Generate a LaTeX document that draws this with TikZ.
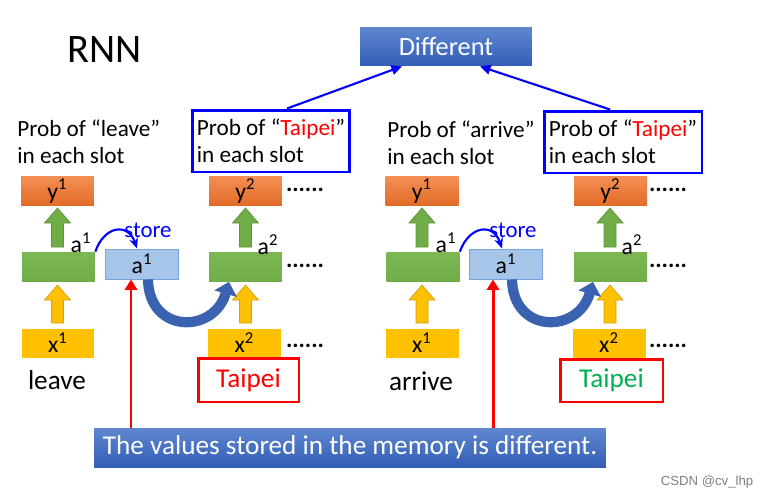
\documentclass[tikz,border=0pt]{standalone}
\usepackage{fontspec}
\setmainfont{Carlito}
\newfontfamily\wmfont{Liberation Sans}
\usetikzlibrary{arrows.meta, positioning, calc, shapes}
\definecolor{pptblue}{RGB}{68,114,196}
\definecolor{pptbluetop}{RGB}{94,135,207}
\definecolor{pptbluebot}{RGB}{50,94,182}
\definecolor{leafgreen}{RGB}{112,173,71}
\definecolor{leafgreentop}{RGB}{124,183,84}
\definecolor{carrot}{RGB}{237,125,49}
\definecolor{carrottop}{RGB}{243,143,84}
\definecolor{carrotbot}{RGB}{226,107,38}
\definecolor{gold}{RGB}{255,192,0}
\definecolor{goldedge}{RGB}{214,160,20}
\definecolor{memfill}{RGB}{166,197,232}
\definecolor{memedge}{RGB}{120,165,220}
\definecolor{curveblue}{RGB}{58,98,176}
\definecolor{pureblue}{RGB}{0,0,255}
\definecolor{purered}{RGB}{255,0,0}
\definecolor{taigreen}{RGB}{0,176,80}

\begin{document}
\begin{tikzpicture}[x=0.02cm, y=-0.02cm,
  cell/.style={minimum width=1.46cm, minimum height=0.58cm, inner sep=0pt, font=\fontsize{13.5}{15}\selectfont},
  outbox/.style={cell, top color=carrottop, bottom color=carrotbot},
  hidbox/.style={cell, top color=leafgreentop, bottom color=leafgreen},
  inbox/.style={cell, fill=gold},
  membox/.style={cell, fill=memfill, draw=memedge, line width=0.5pt, minimum height=0.6cm},
  bluebanner/.style={top color=pptbluetop, bottom color=pptbluebot, text=white, inner sep=0pt},
  probtext/.style={align=left, anchor=base west, inner sep=0pt, font=\fontsize{13.2}{15.3}\selectfont},
  slotbox/.style={draw=pureblue, line width=1.7pt, minimum width=3.16cm, minimum height=1.24cm,
    align=left, inner sep=0pt, font=\fontsize{13.2}{15.3}\selectfont},
  wordbox/.style={draw=purered, line width=1.7pt, inner sep=0pt, font=\fontsize{15.5}{18}\selectfont},
  dotstext/.style={font=\fontsize{13.5}{15}\selectfont\bfseries, inner sep=0pt},
  storetext/.style={text=pureblue, font=\fontsize{13}{14}\selectfont, inner sep=0pt},
  alabel/.style={font=\fontsize{13.5}{15}\selectfont, inner sep=0pt},
  storearr/.style={pureblue, line width=1.2pt, -{Stealth[length=6pt, width=5pt]}},
  carryarr/.style={curveblue, line width=5.8pt, -{Triangle[length=7pt, width=13pt]}},
  pointarr/.style={purered, line width=1.7pt, -{Triangle[length=6pt, width=7pt]}},
  diffarr/.style={pureblue, line width=1.2pt, -{Triangle[length=6pt, width=5.5pt]}},
  garrow/.style={fill=leafgreen, draw=leafgreen!85!black, line width=0.4pt},
  yarrow/.style={fill=gold, draw=goldedge, line width=0.4pt}]
\useasboundingbox (0,0) rectangle (763,497);

\node[font=\fontsize{23}{26}\selectfont, inner sep=0pt] (title) at (104.5,50) {RNN};
\node[bluebanner, minimum width=3.44cm, minimum height=0.78cm, font=\fontsize{15}{18}\selectfont] (diff) at (446,46.5) {Different};

% block arrows x -> a -> y
\foreach \x in {57.5,245.5,422,610} {
  \filldraw[garrow] (\x,208) -- (\x+13,223) -- (\x+6,223) -- (\x+6,247) -- (\x-6,247) -- (\x-6,223) -- (\x-13,223) -- cycle;
  \filldraw[yarrow] (\x,285) -- (\x+13,300) -- (\x+6,300) -- (\x+6,323) -- (\x-6,323) -- (\x-6,300) -- (\x-13,300) -- cycle;
}

% left sentence: leave Taipei
\node[probtext] (probL1) at (17,163) {Prob of “leave”\\in each slot};
\node[slotbox] (slotL) at (271,141) {Prob of “\textcolor{purered}{Taipei}”\\in each slot};
\node[outbox] (yL1) at (57.5,191) {y\textsuperscript{1}};
\node[hidbox] (hL1) at (58.5,266.5) {};
\node[inbox] (xL1) at (58,343) {x\textsuperscript{1}};
\node[membox] (memL) at (142,264) {a\textsuperscript{1}};
\node[outbox] (yL2) at (245.5,191) {y\textsuperscript{2}};
\node[hidbox] (hL2) at (245.5,267) {};
\node[inbox] (xL2) at (244.5,343) {x\textsuperscript{2}};
\node[alabel] (aL1) at (81,243) {a\textsuperscript{1}};
\node[alabel] (aL2) at (268,245) {a\textsuperscript{2}};
\node[storetext] (stL) at (148,230) {store};
\node[font=\fontsize{15.5}{18}\selectfont, inner sep=0pt] (wL1) at (57,380) {leave};
\node[wordbox, minimum width=2.02cm, minimum height=0.88cm, text=purered] (wL2) at (248.5,380) {Taipei};
\foreach \y/\n in {190/a, 266/b, 346/c} \node[dotstext] (dotL\n) at (305,\y) {......};

% right sentence: arrive Taipei
\node[probtext] (probR1) at (387,164) {Prob of “arrive”\\in each slot};
\node[slotbox] (slotR) at (623,142) {Prob of “\textcolor{purered}{Taipei}”\\in each slot};
\node[outbox] (yR1) at (422,191) {y\textsuperscript{1}};
\node[hidbox] (hR1) at (423,266.5) {};
\node[inbox] (xR1) at (422,343) {x\textsuperscript{1}};
\node[membox] (memR) at (506,264) {a\textsuperscript{1}};
\node[outbox] (yR2) at (610.5,191) {y\textsuperscript{2}};
\node[hidbox] (hR2) at (610.5,267) {};
\node[inbox] (xR2) at (609,343) {x\textsuperscript{2}};
\node[alabel] (aR1) at (446,243) {a\textsuperscript{1}};
\node[alabel] (aR2) at (632,245) {a\textsuperscript{2}};
\node[storetext] (stR) at (513,230) {store};
\node[font=\fontsize{15.5}{18}\selectfont, inner sep=0pt] (wR1) at (421,381) {arrive};
\node[wordbox, minimum width=2.06cm, minimum height=0.86cm, text=taigreen] (wR2) at (611.5,380.5) {Taipei};
\foreach \y/\n in {190/a, 266/b, 346/c} \node[dotstext] (dotR\n) at (668,\y) {......};

% memory note
\node[bluebanner, minimum width=10.24cm, minimum height=0.78cm, font=\fontsize{15.5}{18}\selectfont] (note) at (350,447.5) {The values stored in the memory is different.};

% store and carry
\draw[storearr] (hL1.north east) .. controls (104,226) and (128,222) .. (memL.north -| 137,0);
\draw[storearr] (hR1.north east) .. controls (469,226) and (493,222) .. (memR.north -| 502,0);
\draw[carryarr] (memL.south -| 148,0) .. controls (149,334) and (214,334) .. (hL2.south -| 229,0);
\draw[carryarr] (memR.south -| 512,0) .. controls (513,334) and (578,334) .. (hR2.south -| 593,0);

% pointers
\draw[pointarr] (note.north -| 131,0) -- (memL.south -| 131,0);
\draw[pointarr] (note.north -| 493,0) -- (memR.south -| 493,0);
\draw[diffarr] (slotL.north -| 287,0) -- (diff.south -| 402,0);
\draw[diffarr] (slotR.north -| 610,0) -- (diff.south -| 480,0);

\node[text=gray, font=\wmfont\fontsize{7.5}{9}\selectfont, inner sep=0pt] (mark) at (707,482) {CSDN @cv\_lhp};
\end{tikzpicture}
\end{document}
